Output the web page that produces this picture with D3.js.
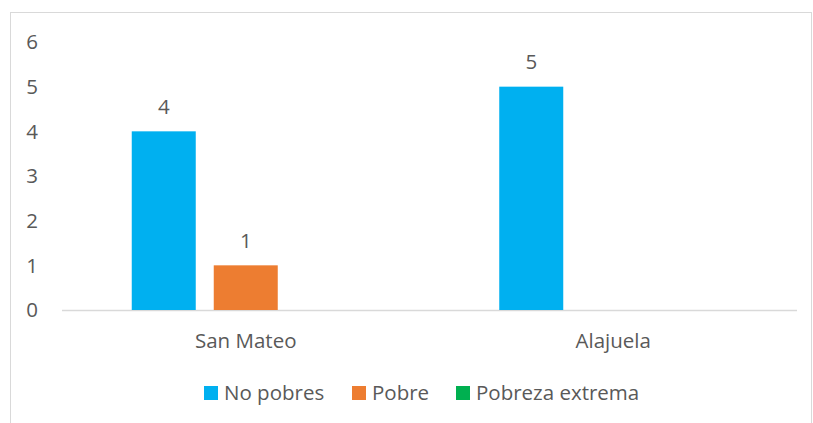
<!DOCTYPE html>
<html>
<head>
<meta charset="utf-8">
<script src="https://cdn.jsdelivr.net/npm/d3@7"></script>
<style>
  body { margin: 0; background: #fff; }
  text { font-family: "Open Sans", sans-serif; fill: #595959; }
</style>
</head>
<body>
<div id="chart"></div>
<script>
// data
const categories = ["San Mateo", "Alajuela"];
const seriesNames = ["No pobres", "Pobre", "Pobreza extrema"];
const seriesColors = ["#00B0F0", "#ED7D31", "#00B050"];
const noPobres = [4, 5];
const pobre = [1, 0];
const pobrezaExtrema = [0, 0];
const yTicks = [0, 1, 2, 3, 4, 5, 6];

const seriesValues = [noPobres, pobre, pobrezaExtrema];

const width = 813, height = 423;
const margin = { top: 42, right: 16, bottom: 113, left: 62 };
const plotW = width - margin.left - margin.right,
  plotH = height - margin.top - margin.bottom;
const fontSize = "20.5px";

const svg = d3.select("#chart").append("svg")
  .attr("width", width)
  .attr("height", height);

// chart frame
svg.append("rect")
  .attr("x", 10.5)
  .attr("y", 12.5)
  .attr("width", 801)
  .attr("height", 420)
  .attr("fill", "none")
  .attr("stroke", "#d9d9d9");

const g = svg.append("g")
  .attr("transform", "translate(" + margin.left + "," + margin.top + ")");

const x0 = d3.scaleBand().domain(categories).range([0, plotW]);
const x1 = d3.scaleBand().domain(seriesNames)
  .range([-114, 114])
  .paddingInner(18 / 82);
const y = d3.scaleLinear().domain([0, 6]).range([plotH, 0]);

// y axis labels
g.selectAll(".ytick")
  .data(yTicks)
  .enter().append("text")
  .attr("class", "ytick")
  .attr("x", -24)
  .attr("y", d => y(d))
  .attr("dy", "0.35em")
  .attr("text-anchor", "end")
  .style("font-size", fontSize)
  .text(d => d);

// baseline
g.append("line")
  .attr("x1", 0)
  .attr("x2", plotW)
  .attr("y1", y(0) + 0.5)
  .attr("y2", y(0) + 0.5)
  .attr("stroke", "#d9d9d9")
  .attr("stroke-width", 1.3);

// bars
const groups = g.selectAll(".grp")
  .data(categories)
  .enter().append("g")
  .attr("class", "grp")
  .attr("transform", c => "translate(" + (x0(c) + x0.bandwidth() / 2) + ",0)");

groups.each(function (c, ci) {
  const grp = d3.select(this);
  seriesNames.forEach(function (s, si) {
    const v = seriesValues[si][ci];
    if (v === 0) return;
    grp.append("rect")
      .attr("x", x1(s))
      .attr("y", y(v))
      .attr("width", x1.bandwidth())
      .attr("height", y(0) - y(v))
      .attr("fill", seriesColors[si]);
    grp.append("text")
      .attr("x", x1(s) + x1.bandwidth() / 2)
      .attr("y", y(v) - 25)
      .attr("dy", "0.35em")
      .attr("text-anchor", "middle")
      .style("font-size", fontSize)
      .text(v);
  });
});

// category labels
g.selectAll(".xlab")
  .data(categories)
  .enter().append("text")
  .attr("class", "xlab")
  .attr("x", c => x0(c) + x0.bandwidth() / 2)
  .attr("y", plotH + 31)
  .attr("dy", "0.35em")
  .attr("text-anchor", "middle")
  .style("font-size", fontSize)
  .text(c => c);

// legend
const legendX = [204, 352, 456];
const legend = svg.append("g");
seriesNames.forEach(function (s, i) {
  legend.append("rect")
    .attr("x", legendX[i])
    .attr("y", 386)
    .attr("width", 14)
    .attr("height", 14)
    .attr("fill", seriesColors[i]);
  legend.append("text")
    .attr("x", legendX[i] + 20)
    .attr("y", 393)
    .attr("dy", "0.35em")
    .style("font-size", fontSize)
    .text(s);
});
</script>
</body>
</html>
